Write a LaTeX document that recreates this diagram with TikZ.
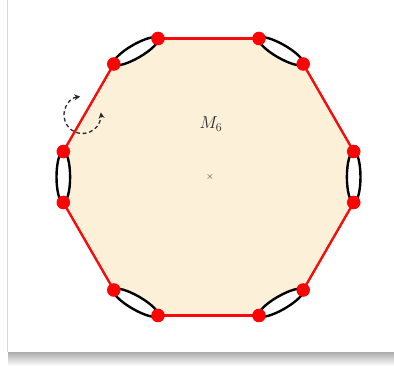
\documentclass[tikz,border=0pt]{standalone}
\usetikzlibrary{calc,arrows.meta}
\definecolor{cream}{RGB}{252,240,216}
\definecolor{edgered}{RGB}{245,12,12}
\definecolor{dotred}{RGB}{250,5,5}
\definecolor{inkgray}{RGB}{40,40,40}
\tikzset{
  vdot/.style={circle,fill=dotred,inner sep=0pt,minimum size=13.6pt},
  rededge/.style={draw=edgered,line width=2.4pt},
  lens/.style={draw=black,fill=white,line width=2.4pt},
  turn/.style={draw=inkgray,line width=1.3pt,dash pattern=on 3.8pt off 2.8pt,{Stealth[length=6pt,width=6pt]}-{Stealth[length=6pt,width=6pt]}}
}
\begin{document}
\begin{tikzpicture}[x=1pt,y=1pt]
\useasboundingbox (0,0) rectangle (394,366);
% card and shadow
\fill[white] (0,0) rectangle (394,366);
\shade[top color=gray!65,bottom color=white] (8,0) rectangle (394,14);
\fill[white] (8,14) rectangle (394,366);
\draw[gray!30,line width=1.5pt] (7.5,14) -- (7.5,366);
\begin{scope}[shift={(208.5,189)}]
  \coordinate (q1) at (-50.5,138.5);
  \coordinate (q2) at (50.5,138.5);
  \coordinate (q3) at (94.7,113);
  \coordinate (q4) at (145.2,25.5);
  \coordinate (q5) at (145.2,-25.5);
  \coordinate (q6) at (94.7,-113);
  \coordinate (q7) at (50.5,-138.5);
  \coordinate (q8) at (-50.5,-138.5);
  \coordinate (q9) at (-94.7,-113);
  \coordinate (q10) at (-145.2,-25.5);
  \coordinate (q11) at (-145.2,25.5);
  \coordinate (q12) at (-94.7,113);
  \fill[cream] (q1)--(q2)--(q3)--(q4)--(q5)--(q6)--(q7)--(q8)--(q9)--(q10)--(q11)--(q12)--cycle;
  % red long edges
  \draw[rededge] (q1) -- (q2);
  \draw[rededge] (q3) -- (q4);
  \draw[rededge] (q5) -- (q6);
  \draw[rededge] (q7) -- (q8);
  \draw[rededge] (q9) -- (q10);
  \draw[rededge] (q11) -- (q12);
  % lenses on short edges
  \coordinate (m23) at ($(q2)!0.5!(q3)$);
  \coordinate (m45) at ($(q4)!0.5!(q5)$);
  \coordinate (m67) at ($(q6)!0.5!(q7)$);
  \coordinate (m89) at ($(q8)!0.5!(q9)$);
  \coordinate (m1011) at ($(q10)!0.5!(q11)$);
  \coordinate (m121) at ($(q12)!0.5!(q1)$);
  \draw[lens,rotate around={-30:(m23)}] (m23) ellipse[x radius=25.5,y radius=6.8];
  \draw[lens,rotate around={90:(m45)}] (m45) ellipse[x radius=25.5,y radius=6.8];
  \draw[lens,rotate around={30:(m67)}] (m67) ellipse[x radius=25.5,y radius=6.8];
  \draw[lens,rotate around={-30:(m89)}] (m89) ellipse[x radius=25.5,y radius=6.8];
  \draw[lens,rotate around={90:(m1011)}] (m1011) ellipse[x radius=25.5,y radius=6.8];
  \draw[lens,rotate around={30:(m121)}] (m121) ellipse[x radius=25.5,y radius=6.8];
  % dots
  \foreach \i in {1,...,12} { \node[vdot] (d\i) at (q\i) {}; }
  % labels
  \node[text=inkgray,font=\fontsize{17}{20}\selectfont] (lab) at (2.5,53) {$M_6$};
  \node[text=inkgray,font=\fontsize{10}{11}\selectfont,inner sep=0pt] (ctr) at (1.5,0) {$\times$};
\end{scope}
% dashed rotation arrow
\coordinate (rc) at (82.5,251);
\draw[turn] ($(rc)+(97:18.5)$) arc[start angle=97,end angle=368,radius=18.5];
\end{tikzpicture}
\end{document}
